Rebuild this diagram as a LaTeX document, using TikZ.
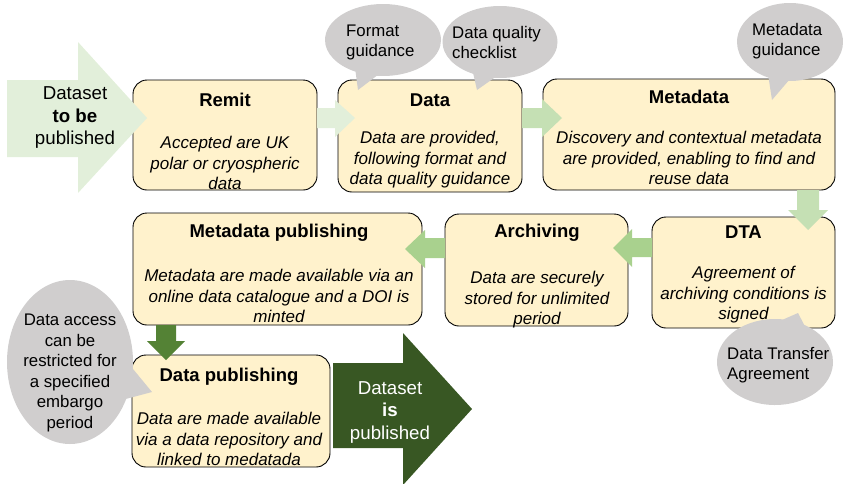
\documentclass[tikz,border=0pt]{standalone}
\usepackage{fontspec}
\setmainfont{Liberation Sans}
\usetikzlibrary{shapes.callouts}

\definecolor{boxfill}{HTML}{FFF2CC}
\definecolor{paleg}{HTML}{E2EFDA}
\definecolor{lightg}{HTML}{C5E0B4}
\definecolor{midg}{HTML}{A9D18E}
\definecolor{darkg}{HTML}{548235}
\definecolor{deepg}{HTML}{385723}
\definecolor{bubblegray}{HTML}{D0CECE}

\tikzset{
  stepbox/.style={draw=black, fill=boxfill, rounded corners=14pt, line width=0.9pt, inner sep=0pt},
  steptitle/.style={font=\fontsize{18.5}{22}\selectfont\bfseries, inner sep=0pt},
  stepbody/.style={font=\fontsize{17}{20.5}\selectfont\itshape, align=center, anchor=north, inner sep=0pt},
  bubble/.style={ellipse callout, fill=bubblegray, inner sep=0pt, callout pointer arc=22},
  bubbletext/.style={font=\fontsize{16.8}{20.5}\selectfont, align=center, inner sep=0pt},
  bigtext/.style={font=\fontsize{18.7}{22.5}\selectfont, align=center, inner sep=0pt},
}

\begin{document}
\begin{tikzpicture}[x=1pt, y=-1pt]
        \useasboundingbox (0,0) rectangle (843,483);

        % process steps
        \node[stepbox, minimum width=184pt, minimum height=110pt] (remit) at (225,135) {};
        \node[stepbox, minimum width=184pt, minimum height=112pt] (data) at (430,136) {};
        \node[stepbox, minimum width=292pt, minimum height=111pt] (meta) at (689,134.5) {};
        \node[stepbox, minimum width=289pt, minimum height=112pt] (mpub) at (277.5,269) {};
        \node[stepbox, minimum width=183pt, minimum height=112pt] (arch) at (536.5,270) {};
        \node[stepbox, minimum width=183pt, minimum height=111pt] (dta) at (743.5,272.5) {};
        \node[stepbox, minimum width=198pt, minimum height=112pt] (dpub) at (231,411) {};

        \node[steptitle] (remitt) at (225,100) {Remit};
        \node[stepbody] (remitb) at (225,136) {Accepted are UK\\polar or cryospheric\\data};
        \node[steptitle] (datat) at (430,100) {Data};
        \node[stepbody] (datab) at (430,131) {Data are provided,\\following format and\\data quality guidance};
        \node[steptitle] (metat) at (689,97) {Metadata};
        \node[stepbody] (metab) at (689,131) {Discovery and contextual metadata\\are provided, enabling to find and\\reuse data};
        \node[steptitle] (mpubt) at (279,233) {Metadata publishing};
        \node[stepbody] (mpubb) at (279,269) {Metadata are made available via an\\online data catalogue and a DOI is\\minted};
        \node[steptitle] (archt) at (537,233) {Archiving};
        \node[stepbody] (archb) at (537,271) {Data are securely\\stored for unlimited\\period};
        \node[steptitle] (dtat) at (743.5,232) {DTA};
        \node[stepbody] (dtab) at (743.5,266) {Agreement of\\archiving conditions is\\signed};
        \node[steptitle] (dpubt) at (229,377) {Data publishing};
        \node[stepbody] (dpubb) at (229,412) {Data are made available\\via a data repository and\\linked to medatada};

        % block arrows
        \fill[paleg] (7,80) -- (78,80) -- (78,42) -- (147,118) -- (78,193) -- (78,157) -- (7,157) -- cycle;
        \node[bigtext] (inarrow) at (75,118) {Dataset\\\textbf{to be}\\published};
        \fill[paleg] (317,108) -- (335,108) -- (335,100) -- (355,118) -- (335,137) -- (335,128) -- (317,128) -- cycle;
        \fill[lightg] (522,108) -- (542,108) -- (542,99) -- (562,118) -- (542,137) -- (542,128) -- (522,128) -- cycle;
        \fill[lightg] (797,190) -- (819,190) -- (819,210) -- (828,210) -- (808,230) -- (788,210) -- (797,210) -- cycle;
        \fill[midg] (652,238) -- (632,238) -- (632,229) -- (613,248) -- (632,267) -- (632,257) -- (652,257) -- cycle;
        \fill[midg] (445,238) -- (425,238) -- (425,230) -- (405,249) -- (425,268) -- (425,258) -- (445,258) -- cycle;
        \fill[darkg] (156,325) -- (176,325) -- (176,341) -- (185,341) -- (166,360) -- (147,341) -- (156,341) -- cycle;
        \fill[deepg] (333,363) -- (403,363) -- (403,333) -- (472,409) -- (403,485) -- (403,448) -- (333,448) -- cycle;
        \node[bigtext, text=white] (outarrow) at (390,412) {Dataset\\\textbf{is}\\published};

        % guidance bubbles
        \node[bubble, minimum width=116pt, minimum height=72pt, callout absolute pointer={(358,90)}] (fmtg) at (383,40) {};
        \node[bubbletext, align=left, anchor=west] (fmtgt) at (346,42.5) {Format\\guidance};
        \node[bubble, minimum width=115pt, minimum height=72pt, callout absolute pointer={(477,90)}] (dqc) at (500,42) {};
        \node[bubbletext, align=left, anchor=west] (dqct) at (452,42.5) {Data quality\\checklist};
        \node[bubble, minimum width=106pt, minimum height=78pt, callout absolute pointer={(772,100)}] (mdg) at (790,42) {};
        \node[bubbletext, align=left, anchor=west] (mdgt) at (752,41) {Metadata\\guidance};
        \node[bubble, minimum width=116pt, minimum height=86pt, callout absolute pointer={(798,313)}] (dtag) at (775,362) {};
        \node[bubbletext, align=left, anchor=west] (dtagt) at (727,365) {Data Transfer\\Agreement};
        \node[bubble, minimum width=126pt, minimum height=164pt, callout absolute pointer={(152,392)}] (embg) at (70,362) {};
        \node[bubbletext] (embgt) at (70,373) {Data access\\can be\\restricted for\\a specified\\embargo\\period};
\end{tikzpicture}
\end{document}
